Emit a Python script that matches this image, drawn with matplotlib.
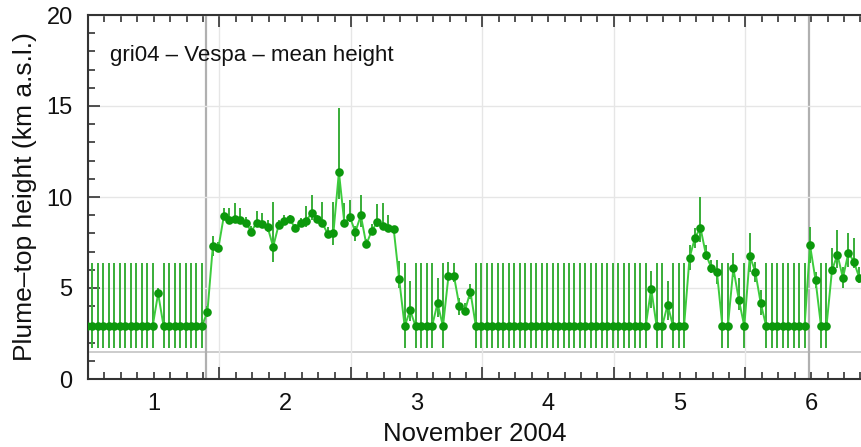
import matplotlib
matplotlib.use("Agg")
import matplotlib.pyplot as plt
import matplotlib.dates as mdates
from matplotlib.ticker import MultipleLocator, FuncFormatter
import numpy as np
import pandas as pd

plt.rcParams['font.family'] = ['Liberation Sans', 'DejaVu Sans']

# hourly samples (first one falls just before the axis start)
times = pd.date_range('2004-10-31 23:48', periods=142, freq='h')

B = 2.9   # background / undetected level
heights = [
    B, B, B, B, B, B, B, B, B, B, B, B, B,          # 0-12
    4.7,                                            # 13
    B, B, B, B, B, B, B, B,                         # 14-21
    3.7, 7.33, 7.2, 8.96, 8.74, 8.81, 8.74, 8.59, 8.1, 8.59,   # 22-31
    8.5, 8.33, 7.27, 8.46, 8.66, 8.79, 8.31, 8.59, 8.7, 9.1,   # 32-41
    8.79, 8.55, 7.95, 8.04, 11.37, 8.55, 8.9, 8.08, 8.99, 7.4, # 42-51
    8.15, 8.6, 8.4, 8.3, 8.24, 5.48, B, 3.77, B, B,            # 52-61
    B, B, 4.16, B, 5.66, 5.66, 4.0, 3.75, 4.8,                 # 62-70
    B, B, B, B, B, B, B, B, B, B, B, B, B, B, B, B,            # 71-86
    B, B, B, B, B, B, B, B, B, B, B, B, B, B, B, B,            # 87-102
    4.96, B, B, 4.08, B, B, B, 6.65, 7.77, 8.3,                # 103-112
    6.83, 6.1, 5.88, B, B, 6.08, 4.36, B, 6.76, 5.9,           # 113-122
    4.16, B, B, B, B, B, B, B, B, 7.34,                        # 123-132
    5.44, B, B, 5.97, 6.83, 5.55, 6.94, 6.45, 5.55,            # 133-141
]

BL, BH = 1.7, 6.4   # range for background level
lower = [
    BL, BL, BL, BL, BL, BL, BL, BL, BL, BL, BL, BL, BL,
    4.4,
    BL, BL, BL, BL, BL, BL, BL, BL,
    3.4, 6.74, 7.0, 8.74, 8.5, 8.55, 8.53, 8.5, 7.9, 8.4,
    8.3, 8.1, 6.45, 8.33, 8.5, 8.6, 8.2, 8.45, 8.35, 8.74,
    8.6, 8.33, 7.86, 7.36, 9.9, 8.4, 8.64, 7.6, 8.33, 7.2,
    8.0, 8.33, 8.2, 8.1, 8.1, 5.0, BL, 3.2, BL, BL,
    BL, BL, 3.42, BL, 5.55, 5.34, 3.52, 3.6, 4.38,
    BL, BL, BL, BL, BL, BL, BL, BL, BL, BL, BL, BL, BL, BL, BL, BL,
    BL, BL, BL, BL, BL, BL, BL, BL, BL, BL, BL, BL, BL, BL, BL, BL,
    3.9, BL, BL, 3.24, BL, BL, BL, 6.0, 7.18, 7.55,
    6.54, 5.8, 5.2, BL, BL, 5.62, 3.79, BL, 5.9, 5.35,
    3.52, BL, BL, BL, BL, BL, BL, BL, BL, 6.36,
    4.98, BL, BL, 5.8, 6.08, 4.98, 6.17, 6.08, 5.26,
]
upper = [
    BH, BH, BH, BH, BH, BH, BH, BH, BH, BH, BH, BH, BH,
    5.0,
    BH, BH, BH, BH, BH, BH, BH, BH,
    4.0, 7.86, 7.55, 9.38, 9.38, 9.65, 9.38, 8.9, 8.4, 9.23,
    9.1, 8.74, 9.74, 8.74, 9.0, 9.0, 8.5, 8.85, 9.5, 10.1,
    9.0, 9.74, 8.33, 9.74, 14.87, 9.65, 9.83, 8.4, 10.1, 7.7,
    8.5, 9.6, 9.65, 9.0, 8.4, 6.5, BH, 5.4, BH, BH,
    BH, BH, 5.53, BH, 6.45, 6.36, 4.43, 4.16, 5.22,
    BH, BH, BH, BH, BH, BH, BH, BH, BH, BH, BH, BH, BH, BH, BH, BH,
    BH, BH, BH, BH, BH, BH, BH, BH, BH, BH, BH, BH, BH, BH, BH, BH,
    5.95, BH, BH, 5.4, BH, BH, BH, 7.36, 8.28, 9.98,
    7.36, 6.54, 6.54, BH, BH, 6.9, 5.53, BH, 8.0, 6.45,
    4.89, BH, BH, BH, BH, BH, BH, BH, BH, 8.37,
    5.9, BH, BH, 7.18, 8.19, 6.17, 8.0, 7.73, 6.17,
]

event_times = ['2004-11-01 21:32', '2004-11-06 11:35']
ref_level = 1.5
day_labels = ['1', '2', '3', '4', '5', '6']
annotation = 'gri04 – Vespa – mean height'

h = np.array(heights)
lo = np.array(lower)
hi = np.array(upper)
tnum = mdates.date2num(times)

fig = plt.figure(figsize=(8.61, 4.47), dpi=100)
ax = fig.add_axes([88/861, 1 - 379/447, 773/861, 364/447])

x0 = mdates.date2num(pd.Timestamp('2004-11-01 00:00'))
x1 = x0 + 141.1 / 24
ax.set_xlim(x0, x1)
ax.set_ylim(0, 20)

ax.grid(True, which='major', color='#e6e6e6', lw=1.0, zorder=0)
ax.axhline(ref_level, color='#c8c8c8', lw=1.3, zorder=1)
for et in event_times:
    ax.axvline(mdates.date2num(pd.Timestamp(et)), color='#b0b0b0', lw=1.6, zorder=1)

ax.errorbar(tnum, h, yerr=[h - lo, hi - h], fmt='none', ecolor='#38ad38',
            elinewidth=1.4, capsize=0, zorder=2)
ax.plot(tnum, h, '-', color='#3ccc3c', lw=1.4, zorder=3)
ax.plot(tnum, h, 'o', color='#0c980c', ms=6.2, mec='none', zorder=4)

# axes / ticks
ax.xaxis.set_major_locator(mdates.DayLocator())
ax.xaxis.set_major_formatter(FuncFormatter(lambda v, p: ''))
ax.xaxis.set_minor_locator(mdates.HourLocator(byhour=range(0, 24, 3)))

def minor_fmt(v, p):
    d = mdates.num2date(v)
    if d.hour == 12 and 1 <= d.day <= len(day_labels):
        return day_labels[d.day - 1]
    return ''
ax.xaxis.set_minor_formatter(FuncFormatter(minor_fmt))

ax.yaxis.set_major_locator(MultipleLocator(5))
ax.yaxis.set_minor_locator(MultipleLocator(1))

ax.tick_params(which='both', direction='in', top=True, right=False,
               color='#333333', width=1.2)
ax.tick_params(which='major', length=8.5)
ax.tick_params(which='minor', length=5)
ax.tick_params(axis='y', which='major', labelsize=17, pad=11, labelcolor='#111111')
ax.tick_params(axis='x', which='minor', labelsize=17, pad=10, labelcolor='#111111')

for s in ['left', 'bottom', 'top']:
    ax.spines[s].set_color('#333333')
    ax.spines[s].set_linewidth(1.5)
ax.spines['right'].set_visible(False)

ax.set_xlabel('November 2004', fontsize=18.5, color='#111111', labelpad=5)
ax.set_ylabel('Plume–top height (km a.s.l.)', fontsize=19, color='#111111', labelpad=7)

ax.text(22/773, (379-55)/364, annotation, transform=ax.transAxes,
        fontsize=16, color='#111111', va='center', ha='left')

fig.savefig('out.png', dpi=100)
